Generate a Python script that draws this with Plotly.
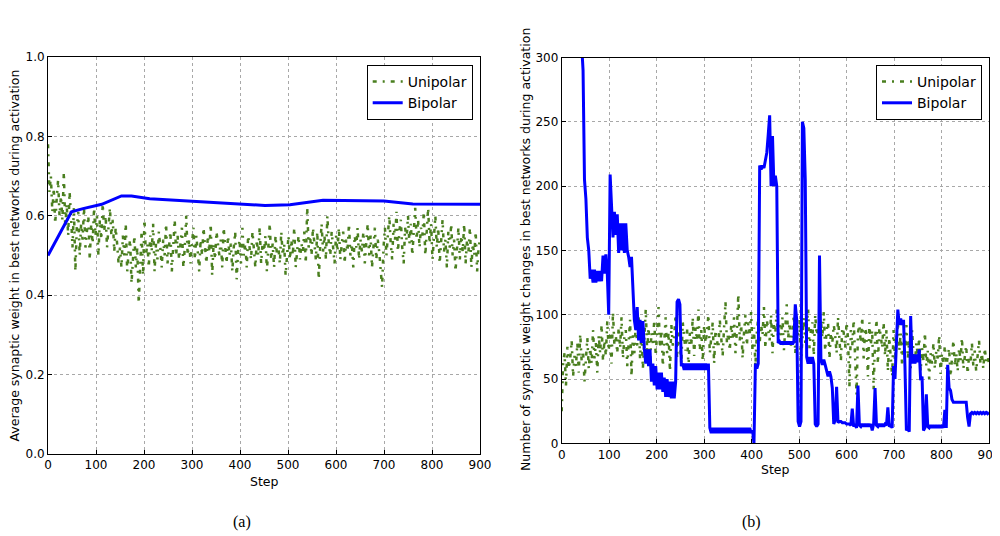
import plotly.graph_objects as go
from plotly.subplots import make_subplots

# x positions (training step), one sample every 3 steps
steps = list(range(0, 901, 3))

# (a) average synaptic weight, unipolar (noisy, one value per 3 steps)
unipolar_a = [
    0.78, 0.66, 0.70, 0.61, 0.67, 0.58, 0.64, 0.69, 0.60, 0.65,
    0.59, 0.71, 0.57, 0.63, 0.55, 0.66, 0.60, 0.52, 0.62, 0.46,
    0.57, 0.61, 0.50, 0.58, 0.54, 0.62, 0.52, 0.56, 0.60, 0.49,
    0.58, 0.53, 0.62, 0.55, 0.60, 0.50, 0.59, 0.54, 0.63, 0.56,
    0.60, 0.52, 0.58, 0.62, 0.55, 0.59, 0.51, 0.57, 0.53, 0.48,
    0.52, 0.47, 0.55, 0.50, 0.58, 0.46, 0.51, 0.54, 0.43, 0.50,
    0.55, 0.47, 0.52, 0.38, 0.48, 0.56, 0.45, 0.59, 0.50, 0.53,
    0.47, 0.55, 0.51, 0.58, 0.46, 0.53, 0.49, 0.56, 0.52, 0.47,
    0.54, 0.50, 0.58, 0.48, 0.52, 0.56, 0.46, 0.53, 0.59, 0.50,
    0.55, 0.49, 0.53, 0.57, 0.47, 0.52, 0.60, 0.50, 0.54, 0.48,
    0.53, 0.57, 0.49, 0.55, 0.51, 0.46, 0.54, 0.50, 0.57, 0.52,
    0.48, 0.55, 0.51, 0.58, 0.45, 0.53, 0.49, 0.56, 0.52, 0.50,
    0.54, 0.47, 0.57, 0.51, 0.48, 0.55, 0.50, 0.53, 0.46, 0.52,
    0.56, 0.44, 0.51, 0.54, 0.48, 0.57, 0.50, 0.53, 0.47, 0.55,
    0.51, 0.49, 0.56, 0.52, 0.47, 0.54, 0.50, 0.57, 0.48, 0.53,
    0.51, 0.55, 0.46, 0.52, 0.58, 0.49, 0.53, 0.47, 0.55, 0.50,
    0.52, 0.48, 0.56, 0.50, 0.53, 0.45, 0.51, 0.55, 0.49, 0.54,
    0.50, 0.57, 0.47, 0.52, 0.55, 0.49, 0.53, 0.51, 0.56, 0.48,
    0.62, 0.52, 0.55, 0.50, 0.57, 0.53, 0.49, 0.56, 0.44, 0.52,
    0.58, 0.51, 0.55, 0.49, 0.60, 0.53, 0.50, 0.56, 0.52, 0.48,
    0.55, 0.51, 0.57, 0.49, 0.53, 0.56, 0.48, 0.54, 0.51, 0.58,
    0.50, 0.53, 0.47, 0.55, 0.52, 0.57, 0.49, 0.54, 0.51, 0.56,
    0.48, 0.53, 0.58, 0.50, 0.55, 0.47, 0.52, 0.57, 0.49, 0.54,
    0.51, 0.46, 0.42, 0.52, 0.57, 0.50, 0.55, 0.60, 0.53, 0.49,
    0.58, 0.54, 0.61, 0.51, 0.56, 0.59, 0.52, 0.48, 0.57, 0.54,
    0.60, 0.53, 0.58, 0.50, 0.56, 0.62, 0.54, 0.59, 0.52, 0.57,
    0.55, 0.61, 0.50, 0.57, 0.62, 0.53, 0.58, 0.49, 0.55, 0.60,
    0.52, 0.57, 0.48, 0.55, 0.59, 0.51, 0.54, 0.47, 0.56, 0.52,
    0.58, 0.50, 0.54, 0.46, 0.53, 0.57, 0.49, 0.55, 0.51, 0.58,
    0.48, 0.54, 0.51, 0.57, 0.47, 0.53, 0.50, 0.56, 0.46, 0.52,
    0.54,
]

# (a) bipolar is a smooth curve, read at its bends
bipolar_a_steps = [0, 49, 73, 112, 153, 174, 212, 296, 400, 452, 504, 573, 700, 760, 900]
bipolar_a = [0.500, 0.610, 0.618, 0.629, 0.650, 0.650, 0.643, 0.637, 0.630,
             0.626, 0.628, 0.639, 0.637, 0.630, 0.629]

# (b) number of synaptic weight changes, one value per 3 steps
unipolar_b = [
    25, 62, 70, 45, 75, 58, 66, 80, 52, 68,
    60, 78, 55, 85, 64, 72, 48, 70, 82, 58,
    74, 62, 88, 66, 78, 55, 84, 70, 92, 64,
    80, 68, 95, 72, 86, 62, 102, 76, 84, 70,
    90, 74, 98, 66, 82, 88, 60, 78, 96, 52,
    84, 70, 94, 76, 100, 66, 88, 58, 82, 104,
    72, 90, 62, 86, 78, 96, 68, 84, 106, 74,
    88, 60, 80, 98, 70, 86, 56, 92, 76, 84,
    100, 66, 88, 78, 62, 94, 82, 72, 90, 58,
    86, 76, 98, 68, 90, 80, 104, 72, 88, 64,
    92, 78, 86, 100, 70, 84, 94, 62, 88, 80,
    74, 96, 84, 68, 90, 110, 78, 86, 72, 92,
    82, 98, 70, 88, 116, 80, 92, 66, 86, 100,
    76, 94, 84, 102, 72, 90, 60, 86, 98, 78,
    92, 84, 106, 74, 96, 88, 80, 100, 70, 94,
    86, 104, 78, 92, 84, 98, 72, 90, 108, 82,
    94, 76, 88, 100, 70, 92, 84, 96, 64, 86,
    98, 78, 90, 104, 74, 88, 94, 68, 100, 84,
    90, 76, 96, 82, 102, 72, 88, 94, 66, 86,
    78, 92, 84, 70, 98, 80, 64, 90, 86, 74,
    94, 82, 44, 88, 76, 96, 70, 38, 86, 92,
    78, 98, 66, 90, 84, 52, 94, 76, 88, 42,
    80, 96, 62, 90, 84, 74, 94, 68, 88, 56,
    82, 70, 52, 88, 64, 78, 94, 72, 86, 60,
    84, 74, 92, 66, 80, 58, 88, 70, 62, 78,
    68, 82, 56, 74, 64, 86, 60, 72, 50, 70,
    62, 78, 58, 72, 66, 84, 54, 70, 62, 76,
    58, 68, 74, 52, 66, 80, 60, 70, 56, 74,
    64, 82, 58, 70, 76, 54, 68, 62, 78, 60,
    72, 56, 66, 80, 62, 70, 58, 74, 64, 68,
    62,
]

bipolar_b = [
    350, 345, 340, 340, 335, 335, 330, 330, 325, 325,
    320, 320, 315, 315, 310, 290, 205, 190, 160, 150,
    128, 135, 125, 135, 125, 134, 126, 134, 126, 146,
    132, 147, 132, 100, 209, 185, 160, 180, 162, 178,
    148, 171, 150, 171, 148, 171, 150, 145, 137, 145,
    120, 96, 88, 106, 80, 96, 78, 95, 74, 62,
    73, 60, 73, 48, 62, 45, 60, 42, 55, 42,
    55, 40, 51, 36, 50, 36, 48, 35, 48, 35,
    48, 110, 112, 108, 60, 62, 57, 62, 57, 62,
    57, 62, 57, 62, 57, 62, 57, 62, 57, 62,
    57, 62, 57, 62, 12, 8, 12, 8, 12, 8,
    12, 8, 12, 8, 12, 8, 12, 8, 12, 8,
    12, 8, 12, 8, 12, 8, 12, 8, 12, 8,
    12, 8, 12, 8, 10, 0, 62, 58, 62, 216,
    213, 216, 214, 222, 226, 240, 255, 200, 239, 200,
    208, 200, 78, 79, 77, 79, 77, 79, 77, 79,
    77, 79, 77, 79, 108, 96, 17, 13, 17, 250,
    245, 205, 67, 62, 67, 62, 67, 62, 15, 13,
    15, 146, 65, 61, 65, 61, 56, 52, 56, 52,
    43, 15, 18, 44, 16, 17, 17, 16, 16, 16,
    15, 15, 15, 14, 27, 13, 15, 12, 45, 14,
    13, 15, 13, 15, 13, 15, 13, 15, 10, 15,
    43, 14, 13, 15, 13, 15, 13, 15, 14, 28,
    13, 14, 12, 60, 50, 78, 104, 92, 97, 92,
    96, 60, 10, 12, 9, 99, 62, 69, 62, 69,
    63, 73, 49, 52, 10, 12, 38, 13, 12, 14,
    12, 14, 12, 14, 12, 14, 12, 14, 12, 26,
    12, 61, 43, 41, 34, 32, 32, 32, 32, 32,
    32, 32, 32, 32, 32, 20, 13, 23, 24, 23,
    24, 23, 24, 23, 24, 23, 24, 23, 24, 23,
    24,
]

x_ticks = list(range(0, 1000, 100))
y_ticks_a = [0.0, 0.2, 0.4, 0.6, 0.8, 1.0]
y_ticks_b = [0, 50, 100, 150, 200, 250, 300]

green = "#4a7f1f"
blue = "#0000ff"
uni_dash = "4px,6px,2px,6px"

# the page body has an 8px margin, so the figure is drawn 8px in from the corner
W, H, OFF = 1000, 528, 8


def px(x):
    return (x - OFF) / W


def py(y):
    return 1 - (y - OFF) / H


fig = make_subplots(rows=1, cols=2)

fig.add_trace(go.Scatter(x=steps, y=unipolar_a, mode="lines", name="Unipolar",
                         line=dict(color=green, width=2.5, dash=uni_dash),
                         legend="legend"), row=1, col=1)
fig.add_trace(go.Scatter(x=bipolar_a_steps, y=bipolar_a, mode="lines", name="Bipolar",
                         line=dict(color=blue, width=3), legend="legend"), row=1, col=1)
fig.add_trace(go.Scatter(x=steps, y=unipolar_b, mode="lines", name="Unipolar",
                         line=dict(color=green, width=2.5, dash=uni_dash),
                         legend="legend2"), row=1, col=2)
fig.add_trace(go.Scatter(x=steps, y=bipolar_b, mode="lines", name="Bipolar",
                         line=dict(color=blue, width=3), legend="legend2"), row=1, col=2)

axis_style = dict(
    automargin=False,
    showline=True, linecolor="black", linewidth=1, mirror=True,
    showgrid=True, gridcolor="#a8a8a8", griddash="dot", gridwidth=1,
    zeroline=False, ticks="inside", ticklen=4, tickcolor="black",
    ticklabeloverflow="allow",
    tickfont=dict(family="DejaVu Sans", size=12, color="black"),
)

fig.update_xaxes(axis_style)
fig.update_yaxes(axis_style)

fig.update_xaxes(range=[0, 900], tickvals=x_ticks, domain=[px(48), px(480)], row=1, col=1)
fig.update_yaxes(range=[0, 1.0], tickvals=y_ticks_a, tickformat=".1f",
                 domain=[py(454), py(57)], row=1, col=1)
fig.update_xaxes(range=[0, 900], tickvals=x_ticks, domain=[px(561.7), px(989)], row=1, col=2)
fig.update_yaxes(range=[0, 300], tickvals=y_ticks_b,
                 domain=[py(443.3), py(57.5)], row=1, col=2)

legend_style = dict(
    bgcolor="white", bordercolor="black", borderwidth=1,
    font=dict(family="DejaVu Sans", size=14, color="black"),
    xanchor="right", yanchor="top", y=py(65), tracegroupgap=0,
)
fig.update_layout(
    width=W,
    height=H,
    margin=dict(l=0, r=0, t=0, b=0, autoexpand=False),
    paper_bgcolor="white",
    plot_bgcolor="white",
    font=dict(family="DejaVu Sans", size=12, color="black"),
    legend=dict(legend_style, x=px(472.7)),
    legend2=dict(legend_style, x=px(982)),
)

labels = [
    ("Average synaptic weight in best networks during activation", 14, 255.5, -90, 12.5, "DejaVu Sans"),
    ("Number of synaptic weight changes in best networks during activation", 526, 250, -90, 12.5, "DejaVu Sans"),
    ("Step", 264.5, 481, 0, 12.5, "DejaVu Sans"),
    ("Step", 775, 469, 0, 12.5, "DejaVu Sans"),
    ("(a)", 241.5, 522, 0, 16, "Liberation Serif"),
    ("(b)", 751, 522, 0, 16, "Liberation Serif"),
]
for text, x, y, angle, size, family in labels:
    fig.add_annotation(text=text, x=px(x), y=py(y), xref="paper", yref="paper",
                       textangle=angle, showarrow=False,
                       xanchor="center", yanchor="middle",
                       font=dict(family=family, size=size, color="black"))

fig.write_html("out.html")
